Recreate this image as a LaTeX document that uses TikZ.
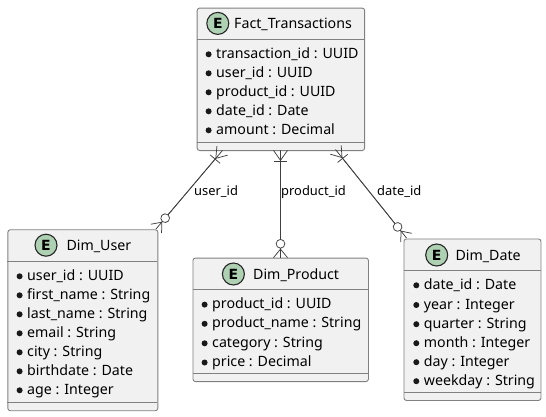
\documentclass[tikz,border=0pt]{standalone}
\usepackage{fontspec}
\setmainfont{Noto Sans}
\newfontfamily\spotfont{DejaVu Sans}
\usetikzlibrary{arrows.meta}
\definecolor{boxfill}{HTML}{F1F1F1}
\definecolor{boxline}{HTML}{808080}
\definecolor{linkline}{HTML}{404040}
\definecolor{spotfill}{HTML}{ADD1B2}
\tikzset{
  entity/.style={draw=boxline,fill=boxfill,line width=0.9pt,rounded corners=2.5pt,anchor=north west,inner sep=0pt},
  rule/.style={draw=boxline,line width=0.9pt},
  spot/.style={circle,draw=black!85,fill=spotfill,line width=1.1pt,minimum size=22pt,inner sep=0pt,font=\spotfont\fontsize{14}{14}\selectfont\bfseries},
  title/.style={anchor=base west,inner sep=0pt,font=\fontsize{14.2}{17}\selectfont},
  field/.style={anchor=base west,inner sep=0pt,text height=11pt,text depth=3pt,font=\fontsize{14.2}{17}\selectfont,label={[dot,label distance=4.2pt]left:}},
  dot/.style={circle,fill=black!90,minimum size=6pt,inner sep=0pt},
  linklabel/.style={anchor=base west,inner sep=0pt,font=\fontsize{12.9}{16}\selectfont},
  link/.style={draw=linkline,line width=0.75pt},
  onemany/.style={draw=linkline,line width=0.75pt,
    {Straight Barb[reversed,length=10pt,width=14pt] Bar[width=13pt,length=0pt,sep=0pt]}-{Circle[open,fill=white,length=9.5pt,width=9.5pt,sep=0pt] Straight Barb[reversed,length=8.5pt,width=14pt]}},
}
\begin{document}
\begin{tikzpicture}[x=1pt,y=-1pt]
\useasboundingbox (0,0) rectangle (546,416);
% boxes
\node [entity,minimum width=167.5pt,minimum height=142.5pt] (factBox) at (196.7,7.6) {};
\node [entity,minimum width=150pt,minimum height=181pt] (userBox) at (7.4,229.3) {};
\node [entity,minimum width=175.5pt,minimum height=123.5pt] (productBox) at (192.5,257.6) {};
\node [entity,minimum width=137pt,minimum height=161.5pt] (dateBox) at (403.5,238.5) {};
\draw [rule] (196.7,39.4) -- (364.2,39.4);
\draw [rule] (196.7,142.3) -- (364.2,142.3);
\draw [rule] (7.4,261.4) -- (157.4,261.4);
\draw [rule] (7.4,402) -- (157.4,402);
\draw [rule] (192.5,289.4) -- (368,289.4);
\draw [rule] (192.5,373) -- (368,373);
\draw [rule] (403.5,270.6) -- (540.5,270.6);
\draw [rule] (403.5,392.2) -- (540.5,392.2);
% headers
\node [spot] (factSpot) at (217.8,23.4) {E};
\node [title] (factTitle) at (234,28.5) {Fact\_Transactions};
\node [spot] (userSpot) at (46,245.2) {E};
\node [title] (userTitle) at (66.4,250.2) {Dim\_User};
\node [spot] (productSpot) at (233.4,274) {E};
\node [title] (productTitle) at (253,279) {Dim\_Product};
\node [spot] (dateSpot) at (436.7,255) {E};
\node [title] (dateTitle) at (455.4,260) {Dim\_Date};
% fields
\node [field] (factA) at (216,58.3) {transaction\_id : UUID};
\node [field] (factB) at (216,77.3) {user\_id : UUID};
\node [field] (factC) at (216,96.3) {product\_id : UUID};
\node [field] (factD) at (216,115.3) {date\_id : Date};
\node [field] (factE) at (216,134.3) {amount : Decimal};
\node [field] (userA) at (27,280.3) {user\_id : UUID};
\node [field] (userB) at (27,299.3) {first\_name : String};
\node [field] (userC) at (27,318.3) {last\_name : String};
\node [field] (userD) at (27,337.3) {email : String};
\node [field] (userE) at (27,356.3) {city : String};
\node [field] (userF) at (27,375.3) {birthdate : Date};
\node [field] (userG) at (27,394.3) {age : Integer};
\node [field] (productA) at (212,308.6) {product\_id : UUID};
\node [field] (productB) at (212,327.8) {product\_name : String};
\node [field] (productC) at (212,347.3) {category : String};
\node [field] (productD) at (212,366.5) {price : Decimal};
\node [field] (dateA) at (423.7,289.3) {date\_id : Date};
\node [field] (dateB) at (423.7,309) {year : Integer};
\node [field] (dateC) at (423.7,328.2) {quarter : String};
\node [field] (dateD) at (423.7,347.2) {month : Integer};
\node [field] (dateE) at (423.7,366.2) {day : Integer};
\node [field] (dateF) at (423.7,385.2) {weekday : String};
% links
\coordinate (factUser) at (222.5,150.4);
\coordinate (factProduct) at (280.5,150);
\coordinate (factDate) at (335.5,149.5);
\coordinate (userTop) at (156,229);
\coordinate (productTop) at (280.5,258);
\coordinate (dateTop) at (406.5,238);
\draw [link] (factUser) -- (userTop);
\draw [link] (factProduct) -- (productTop);
\draw [link] (factDate) -- (dateTop);
\draw [onemany] (factUser) -- (userTop);
\draw [onemany] (factProduct) -- (productTop);
\draw [onemany] (factDate) -- (dateTop);
\node [linklabel] (userLink) at (194,195) {user\_id};
\node [linklabel] (productLink) at (281,195) {product\_id};
\node [linklabel] (dateLink) at (377,195) {date\_id};
\end{tikzpicture}
\end{document}
